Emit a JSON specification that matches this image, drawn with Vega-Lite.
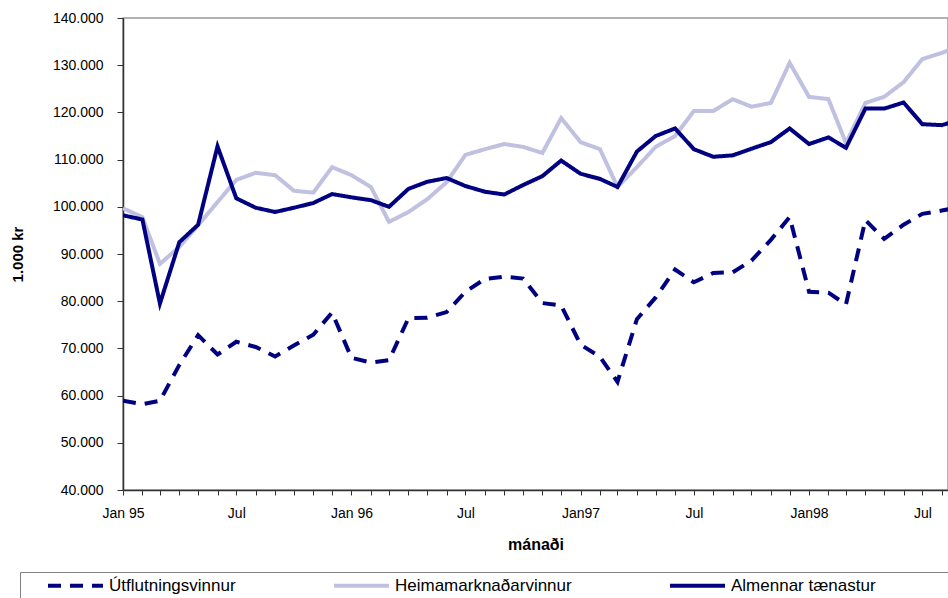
{
  "$schema": "https://vega.github.io/schema/vega-lite/v6.json",
  "width": 825,
  "height": 472,
  "autosize": {"type": "none"},
  "padding": {"left": 123, "top": 18, "right": 0, "bottom": 108},
  "background": "white",
  "config": {
    "view": {"stroke": "#999999", "strokeWidth": 1.5},
    "font": "Liberation Sans",
    "axis": {"grid": false, "labelColor": "#000000", "titleColor": "#000000", "domainColor": "#333333", "tickColor": "#333333", "domainWidth": 1.5, "tickWidth": 1}
  },
  "datasets": {
    "rows": [
      {"date": "1995-01-01", "s": "Útflutningsvinnur", "v": 58900},
      {"date": "1995-02-01", "s": "Útflutningsvinnur", "v": 58200},
      {"date": "1995-03-01", "s": "Útflutningsvinnur", "v": 58900},
      {"date": "1995-04-01", "s": "Útflutningsvinnur", "v": 66500},
      {"date": "1995-05-01", "s": "Útflutningsvinnur", "v": 72800},
      {"date": "1995-06-01", "s": "Útflutningsvinnur", "v": 68700},
      {"date": "1995-07-01", "s": "Útflutningsvinnur", "v": 71400},
      {"date": "1995-08-01", "s": "Útflutningsvinnur", "v": 70300},
      {"date": "1995-09-01", "s": "Útflutningsvinnur", "v": 68300},
      {"date": "1995-10-01", "s": "Útflutningsvinnur", "v": 70600},
      {"date": "1995-11-01", "s": "Útflutningsvinnur", "v": 72900},
      {"date": "1995-12-01", "s": "Útflutningsvinnur", "v": 77600},
      {"date": "1996-01-01", "s": "Útflutningsvinnur", "v": 68000},
      {"date": "1996-02-01", "s": "Útflutningsvinnur", "v": 67000},
      {"date": "1996-03-01", "s": "Útflutningsvinnur", "v": 67500},
      {"date": "1996-04-01", "s": "Útflutningsvinnur", "v": 76400},
      {"date": "1996-05-01", "s": "Útflutningsvinnur", "v": 76500},
      {"date": "1996-06-01", "s": "Útflutningsvinnur", "v": 77700},
      {"date": "1996-07-01", "s": "Útflutningsvinnur", "v": 82000},
      {"date": "1996-08-01", "s": "Útflutningsvinnur", "v": 84700},
      {"date": "1996-09-01", "s": "Útflutningsvinnur", "v": 85200},
      {"date": "1996-10-01", "s": "Útflutningsvinnur", "v": 84800},
      {"date": "1996-11-01", "s": "Útflutningsvinnur", "v": 79600},
      {"date": "1996-12-01", "s": "Útflutningsvinnur", "v": 79100},
      {"date": "1997-01-01", "s": "Útflutningsvinnur", "v": 70800},
      {"date": "1997-02-01", "s": "Útflutningsvinnur", "v": 68200},
      {"date": "1997-03-01", "s": "Útflutningsvinnur", "v": 62900},
      {"date": "1997-04-01", "s": "Útflutningsvinnur", "v": 76200},
      {"date": "1997-05-01", "s": "Útflutningsvinnur", "v": 80800},
      {"date": "1997-06-01", "s": "Útflutningsvinnur", "v": 86700},
      {"date": "1997-07-01", "s": "Útflutningsvinnur", "v": 84000},
      {"date": "1997-08-01", "s": "Útflutningsvinnur", "v": 86000},
      {"date": "1997-09-01", "s": "Útflutningsvinnur", "v": 86100},
      {"date": "1997-10-01", "s": "Útflutningsvinnur", "v": 88600},
      {"date": "1997-11-01", "s": "Útflutningsvinnur", "v": 93000},
      {"date": "1997-12-01", "s": "Útflutningsvinnur", "v": 97800},
      {"date": "1998-01-01", "s": "Útflutningsvinnur", "v": 82000},
      {"date": "1998-02-01", "s": "Útflutningsvinnur", "v": 81800},
      {"date": "1998-03-01", "s": "Útflutningsvinnur", "v": 79300},
      {"date": "1998-04-01", "s": "Útflutningsvinnur", "v": 97200},
      {"date": "1998-05-01", "s": "Útflutningsvinnur", "v": 93200},
      {"date": "1998-06-01", "s": "Útflutningsvinnur", "v": 96200},
      {"date": "1998-07-01", "s": "Útflutningsvinnur", "v": 98500},
      {"date": "1998-08-01", "s": "Útflutningsvinnur", "v": 99200},
      {"date": "1998-09-01", "s": "Útflutningsvinnur", "v": 100000},
      {"date": "1995-01-01", "s": "Heimamarknaðarvinnur", "v": 99700},
      {"date": "1995-02-01", "s": "Heimamarknaðarvinnur", "v": 97800},
      {"date": "1995-03-01", "s": "Heimamarknaðarvinnur", "v": 87900},
      {"date": "1995-04-01", "s": "Heimamarknaðarvinnur", "v": 91500},
      {"date": "1995-05-01", "s": "Heimamarknaðarvinnur", "v": 96100},
      {"date": "1995-06-01", "s": "Heimamarknaðarvinnur", "v": 101000},
      {"date": "1995-07-01", "s": "Heimamarknaðarvinnur", "v": 105700},
      {"date": "1995-08-01", "s": "Heimamarknaðarvinnur", "v": 107200},
      {"date": "1995-09-01", "s": "Heimamarknaðarvinnur", "v": 106700},
      {"date": "1995-10-01", "s": "Heimamarknaðarvinnur", "v": 103400},
      {"date": "1995-11-01", "s": "Heimamarknaðarvinnur", "v": 103000},
      {"date": "1995-12-01", "s": "Heimamarknaðarvinnur", "v": 108400},
      {"date": "1996-01-01", "s": "Heimamarknaðarvinnur", "v": 106700},
      {"date": "1996-02-01", "s": "Heimamarknaðarvinnur", "v": 104200},
      {"date": "1996-03-01", "s": "Heimamarknaðarvinnur", "v": 96800},
      {"date": "1996-04-01", "s": "Heimamarknaðarvinnur", "v": 98900},
      {"date": "1996-05-01", "s": "Heimamarknaðarvinnur", "v": 101600},
      {"date": "1996-06-01", "s": "Heimamarknaðarvinnur", "v": 105200},
      {"date": "1996-07-01", "s": "Heimamarknaðarvinnur", "v": 111000},
      {"date": "1996-08-01", "s": "Heimamarknaðarvinnur", "v": 112200},
      {"date": "1996-09-01", "s": "Heimamarknaðarvinnur", "v": 113300},
      {"date": "1996-10-01", "s": "Heimamarknaðarvinnur", "v": 112700},
      {"date": "1996-11-01", "s": "Heimamarknaðarvinnur", "v": 111400},
      {"date": "1996-12-01", "s": "Heimamarknaðarvinnur", "v": 118800},
      {"date": "1997-01-01", "s": "Heimamarknaðarvinnur", "v": 113700},
      {"date": "1997-02-01", "s": "Heimamarknaðarvinnur", "v": 112200},
      {"date": "1997-03-01", "s": "Heimamarknaðarvinnur", "v": 104200},
      {"date": "1997-04-01", "s": "Heimamarknaðarvinnur", "v": 108400},
      {"date": "1997-05-01", "s": "Heimamarknaðarvinnur", "v": 112700},
      {"date": "1997-06-01", "s": "Heimamarknaðarvinnur", "v": 115000},
      {"date": "1997-07-01", "s": "Heimamarknaðarvinnur", "v": 120300},
      {"date": "1997-08-01", "s": "Heimamarknaðarvinnur", "v": 120300},
      {"date": "1997-09-01", "s": "Heimamarknaðarvinnur", "v": 122800},
      {"date": "1997-10-01", "s": "Heimamarknaðarvinnur", "v": 121200},
      {"date": "1997-11-01", "s": "Heimamarknaðarvinnur", "v": 122000},
      {"date": "1997-12-01", "s": "Heimamarknaðarvinnur", "v": 130500},
      {"date": "1998-01-01", "s": "Heimamarknaðarvinnur", "v": 123300},
      {"date": "1998-02-01", "s": "Heimamarknaðarvinnur", "v": 122800},
      {"date": "1998-03-01", "s": "Heimamarknaðarvinnur", "v": 113500},
      {"date": "1998-04-01", "s": "Heimamarknaðarvinnur", "v": 122000},
      {"date": "1998-05-01", "s": "Heimamarknaðarvinnur", "v": 123300},
      {"date": "1998-06-01", "s": "Heimamarknaðarvinnur", "v": 126400},
      {"date": "1998-07-01", "s": "Heimamarknaðarvinnur", "v": 131300},
      {"date": "1998-08-01", "s": "Heimamarknaðarvinnur", "v": 132600},
      {"date": "1998-09-01", "s": "Heimamarknaðarvinnur", "v": 134200},
      {"date": "1995-01-01", "s": "Almennar tænastur", "v": 98200},
      {"date": "1995-02-01", "s": "Almennar tænastur", "v": 97300},
      {"date": "1995-03-01", "s": "Almennar tænastur", "v": 79500},
      {"date": "1995-04-01", "s": "Almennar tænastur", "v": 92500},
      {"date": "1995-05-01", "s": "Almennar tænastur", "v": 96200},
      {"date": "1995-06-01", "s": "Almennar tænastur", "v": 112800},
      {"date": "1995-07-01", "s": "Almennar tænastur", "v": 101800},
      {"date": "1995-08-01", "s": "Almennar tænastur", "v": 99800},
      {"date": "1995-09-01", "s": "Almennar tænastur", "v": 98900},
      {"date": "1995-10-01", "s": "Almennar tænastur", "v": 99800},
      {"date": "1995-11-01", "s": "Almennar tænastur", "v": 100800},
      {"date": "1995-12-01", "s": "Almennar tænastur", "v": 102700},
      {"date": "1996-01-01", "s": "Almennar tænastur", "v": 102000},
      {"date": "1996-02-01", "s": "Almennar tænastur", "v": 101400},
      {"date": "1996-03-01", "s": "Almennar tænastur", "v": 100000},
      {"date": "1996-04-01", "s": "Almennar tænastur", "v": 103800},
      {"date": "1996-05-01", "s": "Almennar tænastur", "v": 105300},
      {"date": "1996-06-01", "s": "Almennar tænastur", "v": 106100},
      {"date": "1996-07-01", "s": "Almennar tænastur", "v": 104400},
      {"date": "1996-08-01", "s": "Almennar tænastur", "v": 103200},
      {"date": "1996-09-01", "s": "Almennar tænastur", "v": 102600},
      {"date": "1996-10-01", "s": "Almennar tænastur", "v": 104600},
      {"date": "1996-11-01", "s": "Almennar tænastur", "v": 106500},
      {"date": "1996-12-01", "s": "Almennar tænastur", "v": 109800},
      {"date": "1997-01-01", "s": "Almennar tænastur", "v": 107000},
      {"date": "1997-02-01", "s": "Almennar tænastur", "v": 105900},
      {"date": "1997-03-01", "s": "Almennar tænastur", "v": 104200},
      {"date": "1997-04-01", "s": "Almennar tænastur", "v": 111700},
      {"date": "1997-05-01", "s": "Almennar tænastur", "v": 115000},
      {"date": "1997-06-01", "s": "Almennar tænastur", "v": 116600},
      {"date": "1997-07-01", "s": "Almennar tænastur", "v": 112200},
      {"date": "1997-08-01", "s": "Almennar tænastur", "v": 110600},
      {"date": "1997-09-01", "s": "Almennar tænastur", "v": 110900},
      {"date": "1997-10-01", "s": "Almennar tænastur", "v": 112300},
      {"date": "1997-11-01", "s": "Almennar tænastur", "v": 113700},
      {"date": "1997-12-01", "s": "Almennar tænastur", "v": 116600},
      {"date": "1998-01-01", "s": "Almennar tænastur", "v": 113300},
      {"date": "1998-02-01", "s": "Almennar tænastur", "v": 114700},
      {"date": "1998-03-01", "s": "Almennar tænastur", "v": 112500},
      {"date": "1998-04-01", "s": "Almennar tænastur", "v": 120800},
      {"date": "1998-05-01", "s": "Almennar tænastur", "v": 120800},
      {"date": "1998-06-01", "s": "Almennar tænastur", "v": 122100},
      {"date": "1998-07-01", "s": "Almennar tænastur", "v": 117500},
      {"date": "1998-08-01", "s": "Almennar tænastur", "v": 117300},
      {"date": "1998-09-01", "s": "Almennar tænastur", "v": 118500}
    ]
  },
  "data": {"name": "rows"},
  "mark": {"type": "line", "clip": true, "strokeWidth": 4, "strokeCap": "butt", "strokeJoin": "miter"},
  "encoding": {
    "x": {
      "field": "date",
      "type": "temporal",
      "scale": {"type": "utc", "domain": [{"year": 1995, "month": 1, "date": 1, "utc": true}, {"year": 1998, "month": 8, "date": 11, "utc": true}]},
      "axis": {
        "title": "mánaði",
        "titleFont": "Liberation Sans",
        "titleFontSize": 16,
        "titleFontWeight": "bold",
        "titlePadding": 16,
        "tickCount": {"interval": "month", "step": 1},
        "labelExpr": "utcmonth(datum.value) == 0 ? (utcyear(datum.value) < 1997 ? 'Jan ' : 'Jan') + utcFormat(datum.value, '%y') : (utcmonth(datum.value) == 6 ? 'Jul' : '')",
        "labelOverlap": false,
        "labelFlush": false,
        "labelBound": false,
        "labelPadding": 11,
        "labelFontSize": 14,
        "tickSize": 5
      }
    },
    "y": {
      "field": "v",
      "type": "quantitative",
      "scale": {"domain": [40000, 140000], "nice": false, "zero": false},
      "axis": {
        "title": "1.000 kr",
        "titleFont": "Liberation Sans",
        "titleFontSize": 15,
        "titleFontWeight": "bold",
        "titlePadding": 27,
        "values": [40000, 50000, 60000, 70000, 80000, 90000, 100000, 110000, 120000, 130000, 140000],
        "labelExpr": "replace(format(datum.value, ','), ',', '.')",
        "labelPadding": 14,
        "labelFontSize": 14,
        "tickSize": 6
      }
    },
    "color": {
      "field": "s",
      "type": "nominal",
      "scale": {"domain": ["Útflutningsvinnur", "Heimamarknaðarvinnur", "Almennar tænastur"], "range": ["#000080", "#C0C0E0", "#000080"]},
      "legend": {
        "title": null,
        "orient": "none",
        "legendX": -103,
        "legendY": 554,
        "direction": "horizontal",
        "columns": 3,
        "symbolType": "M-5,0H5",
        "symbolSize": 121,
        "symbolStrokeWidth": 4,
        "symbolOffset": 42,
        "labelOffset": 25,
        "labelFont": "Liberation Sans",
        "labelFontSize": 17,
        "labelColor": "#000000",
        "labelLimit": 600,
        "columnPadding": 75,
        "padding": 5,
        "strokeColor": "#808080",
        "labelExpr": "datum.label == 'Almennar tænastur' ? datum.label + '\u00a0\u00a0\u00a0\u00a0\u00a0\u00a0\u00a0\u00a0\u00a0\u00a0\u00a0\u00a0\u00a0\u00a0\u00a0\u00a0\u00a0\u00a0\u00a0\u00a0\u200b' : datum.label"
      }
    },
    "strokeDash": {
      "field": "s",
      "type": "nominal",
      "scale": {"domain": ["Útflutningsvinnur", "Heimamarknaðarvinnur", "Almennar tænastur"], "range": [[13, 9], [1, 0], [1, 0]]},
      "legend": {
        "title": null,
        "orient": "none",
        "legendX": -103,
        "legendY": 554,
        "direction": "horizontal",
        "columns": 3,
        "symbolType": "M-5,0H5",
        "symbolSize": 121,
        "symbolStrokeWidth": 4,
        "symbolOffset": 42,
        "labelOffset": 25,
        "labelFont": "Liberation Sans",
        "labelFontSize": 17,
        "labelColor": "#000000",
        "labelLimit": 600,
        "columnPadding": 75,
        "padding": 5,
        "strokeColor": "#808080",
        "labelExpr": "datum.label == 'Almennar tænastur' ? datum.label + '\u00a0\u00a0\u00a0\u00a0\u00a0\u00a0\u00a0\u00a0\u00a0\u00a0\u00a0\u00a0\u00a0\u00a0\u00a0\u00a0\u00a0\u00a0\u00a0\u00a0\u200b' : datum.label"
      }
    }
  }
}
